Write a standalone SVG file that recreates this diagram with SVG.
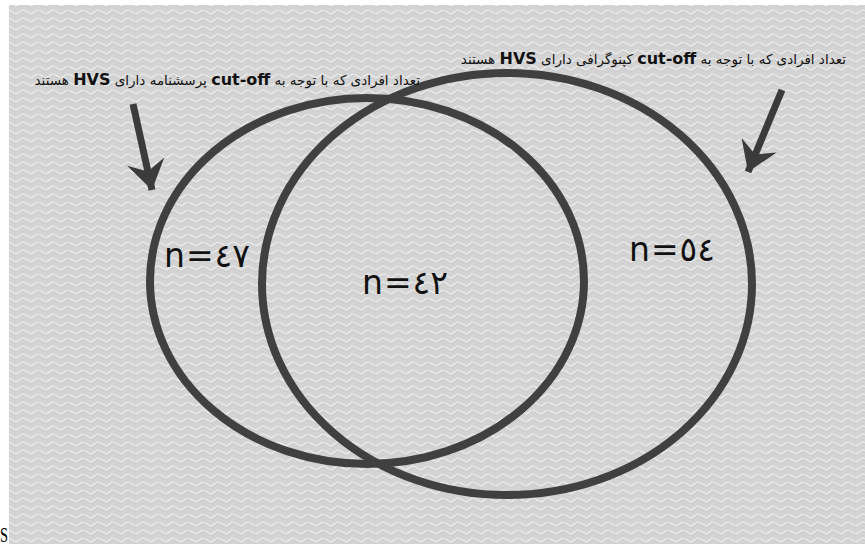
<svg xmlns="http://www.w3.org/2000/svg" width="865" height="544" viewBox="0 0 865 544">
  <defs>
    <pattern id="tex" width="15" height="8" patternUnits="userSpaceOnUse">
      <rect width="15" height="8" fill="#d3d3d3"/>
      <path d="M0,6 C4,6 5,2 8,2 C11,2 12,5 15,5" fill="none" stroke="#f4f4f4" stroke-width="1.2" opacity="0.8"/>
      <path d="M0,8 C4,8 5,4 8,4 C11,4 12,7 15,7" fill="none" stroke="#c2c2c2" stroke-width="0.8" opacity="0.5"/>
    </pattern>
    <filter id="soft" x="-5%" y="-5%" width="110%" height="110%">
      <feGaussianBlur stdDeviation="0.6"/>
    </filter>
    <marker id="head" markerUnits="userSpaceOnUse" markerWidth="40" markerHeight="44" viewBox="-30 -22 32 44" refX="0" refY="0" orient="auto">
      <path d="M0,0 L-29,-19 L-19,0 L-29,19 Z" fill="#3b3b3b"/>
    </marker>
    <style>
      .set { fill: none; stroke: #404040; stroke-width: 8; filter: url(#soft); }
      .arrow { stroke: #3b3b3b; stroke-width: 7; fill: none; marker-end: url(#head); }
      .note { font-family: "DejaVu Sans", sans-serif; font-size: 13.5px; fill: #111; direction: rtl; unicode-bidi: embed; }
      .note .lat { font-family: "DejaVu Sans", "Liberation Sans", sans-serif; font-weight: bold; font-size: 16px; }
      .count { font-family: "DejaVu Sans", sans-serif; font-size: 33px; fill: #111; letter-spacing: 1px; }
    </style>
  </defs>

  <rect x="9" y="5" width="856" height="539" fill="url(#tex)"/>

  <text x="0" y="542" font-family="Liberation Serif, serif" font-size="22" fill="#000" textLength="8" lengthAdjust="spacingAndGlyphs">S</text>

  <g id="left-set">
    <ellipse class="set" cx="367" cy="281" rx="217" ry="183"/>
  </g>
  <g id="right-set">
    <ellipse class="set" cx="507" cy="284" rx="245" ry="211"/>
  </g>

  <g id="connectors">
    <line class="arrow" x1="133" y1="104" x2="152" y2="190"/>
    <line class="arrow" x1="782" y1="90" x2="748" y2="172"/>
  </g>

  <g id="label-left">
    <text class="note" x="420" y="85">تعداد افرادی که با توجه به <tspan class="lat">cut-off</tspan> پرسشنامه دارای <tspan class="lat">HVS</tspan> هستند</text>
  </g>
  <g id="label-right">
    <text class="note" x="846" y="64">تعداد افرادی که با توجه به <tspan class="lat">cut-off</tspan> کپنوگرافی دارای <tspan class="lat">HVS</tspan> هستند</text>
  </g>

  <g id="count-left"><text class="count" x="164" y="267">n=٤٧</text></g>
  <g id="count-middle"><text class="count" x="362" y="294">n=٤٢</text></g>
  <g id="count-right"><text class="count" x="629" y="261">n=٥٤</text></g>
</svg>
